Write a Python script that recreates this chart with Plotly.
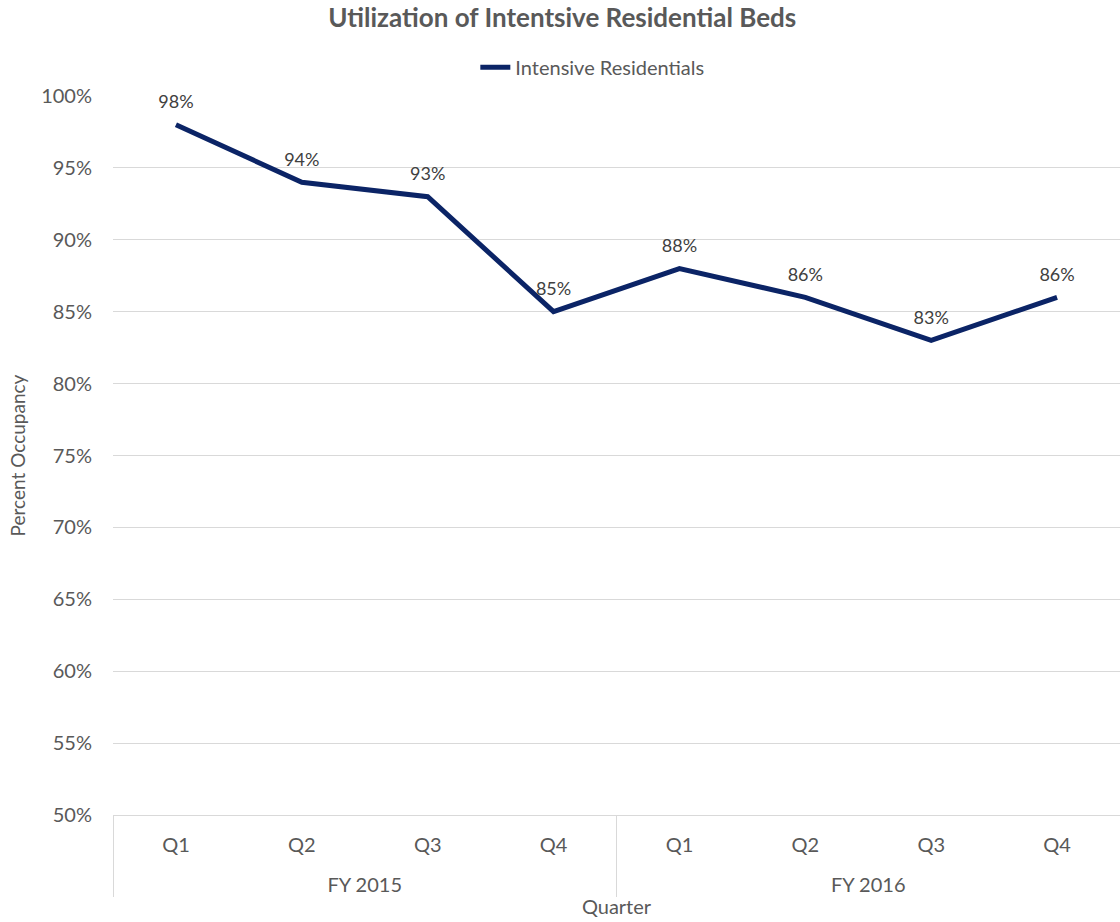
import plotly.graph_objects as go

fiscal_years = ["FY 2015"] * 4 + ["FY 2016"] * 4
quarters = ["Q1", "Q2", "Q3", "Q4", "Q1", "Q2", "Q3", "Q4"]
occupancy = [0.98, 0.94, 0.93, 0.85, 0.88, 0.86, 0.83, 0.86]
series_name = "Intensive Residentials"

FONT = "Lato, 'Open Sans', sans-serif"
GRAY = "#595959"

# outer level labels pushed down one line, like the reference
fy_level = ["<br>" + fy for fy in fiscal_years]

fig = go.Figure()
fig.add_trace(go.Scatter(
    x=[fy_level, quarters],
    y=occupancy,
    mode="lines",
    name=series_name,
    line=dict(color="#0b2466", width=5),
))
# data labels (invisible markers push the labels above the points)
fig.add_trace(go.Scatter(
    x=[fy_level, quarters],
    y=occupancy,
    mode="markers+text",
    showlegend=False,
    hoverinfo="skip",
    marker=dict(size=18, color="rgba(0,0,0,0)"),
    text=[f"{v:.0%}" for v in occupancy],
    textposition="top center",
    textfont=dict(family=FONT, size=18, color="#404040"),
    cliponaxis=False,
))

fig.update_layout(
    width=1120, height=922,
    margin=dict(l=113, r=0, t=96, b=107),
    paper_bgcolor="white", plot_bgcolor="white",
    font=dict(family=FONT, color=GRAY),
    title=dict(text="<b>Utilization of Intentsive Residential Beds</b>",
               x=0.502, xref="container", xanchor="center",
               y=1 - 18 / 922, yanchor="middle",
               font=dict(family=FONT, size=26, color=GRAY)),
    showlegend=True,
    legend=dict(orientation="h", x=0.476, xanchor="center", y=1.04, yanchor="middle",
                font=dict(family=FONT, size=20, color=GRAY), bgcolor="rgba(0,0,0,0)"),
    xaxis=dict(
        type="multicategory",
        range=[-0.5, 7.5],
        showline=True, linecolor="#d9d9d9", linewidth=1,
        showdividers=True, dividercolor="#d9d9d9", dividerwidth=1,
        ticklabelstandoff=12,
        tickfont=dict(family=FONT, size=20, color=GRAY),
        title=dict(text="Quarter", font=dict(family=FONT, size=20, color=GRAY), standoff=4),
        showgrid=False,
    ),
    yaxis=dict(
        range=[0.5, 1.0], dtick=0.05, tickformat=".0%",
        showgrid=True, gridcolor="#d9d9d9", gridwidth=1,
        zeroline=False, showline=False,
        ticks="", ticklabelstandoff=20,
        tickfont=dict(family=FONT, size=20, color=GRAY),
        title=dict(text="Percent Occupancy", font=dict(family=FONT, size=19, color=GRAY), standoff=10),
    ),
)

fig.write_html("out.html")
